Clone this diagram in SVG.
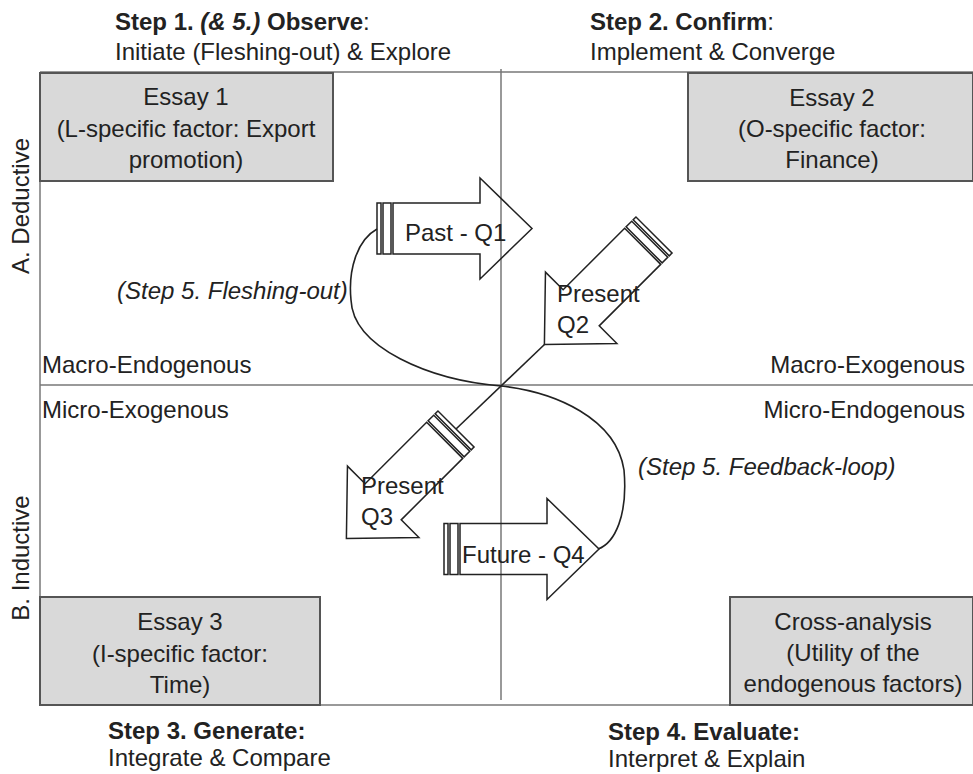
<svg xmlns="http://www.w3.org/2000/svg" width="973" height="774" viewBox="0 0 973 774">
  <style>
    text { font-family: "Liberation Sans", Arial, sans-serif; font-size: 24px; fill: #222; }
    .b { font-weight: bold; }
    .bi { font-weight: bold; font-style: italic; }
    .it { font-style: italic; }
    .mid { text-anchor: middle; }
    .end { text-anchor: end; }
    .grid { stroke: #777; stroke-width: 1.5; fill: none; }
    .box { fill: #d9d9d9; stroke: #555; stroke-width: 2; }
    .arrow { fill: none; stroke: #222; stroke-width: 1.5; stroke-linejoin: miter; }
    .link { fill: none; stroke: #222; stroke-width: 1.6; }
  </style>
  <defs>
    <!-- striped block arrow, tail at origin, pointing along +x -->
    <g id="striped-arrow">
      <rect x="0" y="-25.5" width="4" height="51" class="arrow"/>
      <rect x="6" y="-25.5" width="8" height="51" class="arrow"/>
      <polygon points="16,-25.5 103,-25.5 103,-50.5 155,0 103,50.5 103,25.5 16,25.5" class="arrow"/>
    </g>
  </defs>

  <rect width="973" height="774" fill="#fff"/>

  <!-- quadrant frame -->
  <g id="frame">
    <line x1="40" y1="72" x2="973" y2="72" class="grid"/>
    <line x1="40" y1="705" x2="973" y2="705" class="grid"/>
    <line x1="40" y1="72" x2="40" y2="705" class="grid"/>
    <line x1="40" y1="385" x2="973" y2="385" class="grid"/>
    <line x1="501" y1="69" x2="501" y2="700" class="grid"/>
  </g>

  <!-- step headings -->
  <g id="step1">
    <text x="115" y="30"><tspan class="b">Step 1. </tspan><tspan class="bi">(&amp; 5.)</tspan><tspan class="b"> Observe</tspan>:</text>
    <text x="115" y="60">Initiate (Fleshing-out) &amp; Explore</text>
  </g>
  <g id="step2">
    <text x="590" y="30"><tspan class="b">Step 2. Confirm</tspan>:</text>
    <text x="590" y="60">Implement &amp; Converge</text>
  </g>
  <g id="step3">
    <text x="108" y="739" class="b">Step 3. Generate:</text>
    <text x="108" y="766">Integrate &amp; Compare</text>
  </g>
  <g id="step4">
    <text x="608" y="740" class="b">Step 4. Evaluate:</text>
    <text x="608" y="767">Interpret &amp; Explain</text>
  </g>

  <!-- axis labels -->
  <g id="axis-a">
    <text class="mid" transform="translate(29,206) rotate(-90)">A. Deductive</text>
  </g>
  <g id="axis-b">
    <text class="mid" transform="translate(29,558) rotate(-90)">B. Inductive</text>
  </g>

  <!-- quadrant labels -->
  <g id="quadrant-labels">
    <text x="42" y="373">Macro-Endogenous</text>
    <text x="965" y="373" class="end">Macro-Exogenous</text>
    <text x="42" y="418">Micro-Exogenous</text>
    <text x="965" y="418" class="end">Micro-Endogenous</text>
  </g>

  <!-- essay boxes -->
  <g id="essay1">
    <rect x="40" y="73" width="293" height="108" class="box"/>
    <text x="186" y="105" class="mid">Essay 1</text>
    <text x="186" y="137" class="mid">(L-specific factor: Export</text>
    <text x="186" y="168" class="mid">promotion)</text>
  </g>
  <g id="essay2">
    <rect x="688" y="73" width="285" height="108" class="box"/>
    <text x="832" y="106" class="mid">Essay 2</text>
    <text x="832" y="137" class="mid">(O-specific factor:</text>
    <text x="832" y="168" class="mid">Finance)</text>
  </g>
  <g id="essay3">
    <rect x="40" y="597" width="280" height="108" class="box"/>
    <text x="180" y="630" class="mid">Essay 3</text>
    <text x="180" y="662" class="mid">(I-specific factor:</text>
    <text x="180" y="693" class="mid">Time)</text>
  </g>
  <g id="cross-analysis">
    <rect x="730" y="597" width="243" height="108" class="box"/>
    <text x="853" y="630" class="mid">Cross-analysis</text>
    <text x="853" y="661" class="mid">(Utility of the</text>
    <text x="853" y="692" class="mid">endogenous factors)</text>
  </g>

  <!-- connectors -->
  <g id="connectors">
    <path class="link" d="M377,229 C357,240 348,270 351,300 C353,348 430,380 501,386 C555,392 616,418 624,470 C628,515 615,543 598,549"/>
    <line class="link" x1="545" y1="344" x2="456" y2="429"/>
    <text x="117" y="299" class="it">(Step 5. Fleshing-out)</text>
    <text x="638" y="475" class="it">(Step 5. Feedback-loop)</text>
  </g>

  <!-- time arrows -->
  <g id="q1">
    <use href="#striped-arrow" transform="translate(377,228.5)"/>
    <text x="405" y="241">Past - Q1</text>
  </g>
  <g id="q2">
    <use href="#striped-arrow" transform="translate(654,235) rotate(135)"/>
    <text x="557" y="302">Present</text>
    <text x="557" y="333">Q2</text>
  </g>
  <g id="q3">
    <use href="#striped-arrow" transform="translate(456,429) rotate(135)"/>
    <text x="361" y="494">Present</text>
    <text x="361" y="525">Q3</text>
  </g>
  <g id="q4">
    <use href="#striped-arrow" transform="translate(444,549)"/>
    <text x="462" y="563">Future - Q4</text>
  </g>
</svg>
